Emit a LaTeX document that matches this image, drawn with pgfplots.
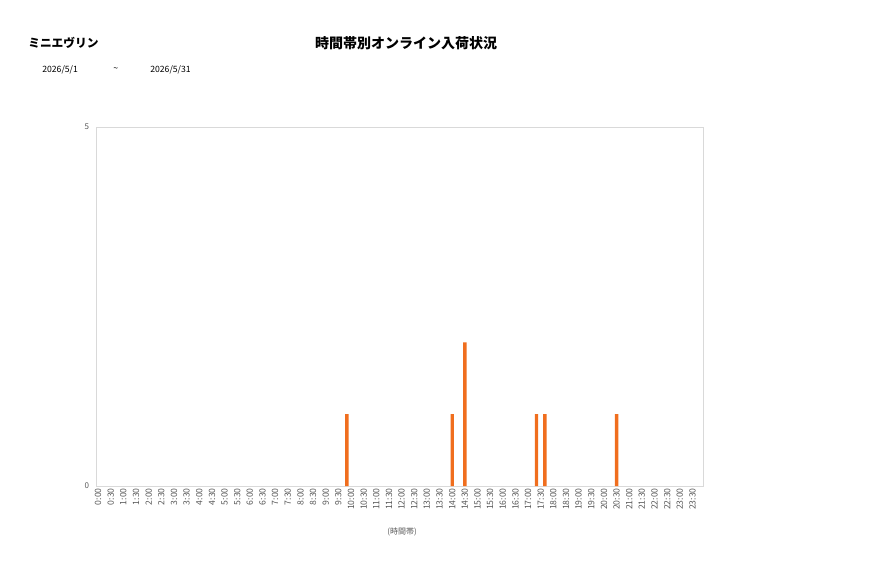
\documentclass[border=0pt]{standalone}
\usepackage{fontspec}
\setmainfont{Noto Sans CJK JP}
\usepackage{pgfplots}
\pgfplotsset{compat=1.18}
\definecolor{barorange}{RGB}{240,110,30}
\definecolor{framegray}{RGB}{217,217,217}
\definecolor{textgray}{RGB}{89,89,89}
\begin{document}
\begin{tikzpicture}[x=0.75pt,y=0.75pt]
\path[use as bounding box] (0,0) rectangle (877,578);
% titles (pixel coordinates, origin bottom left)
\node[anchor=west,inner sep=0pt,font=\fontsize{8.8}{10}\selectfont\bfseries] at (28,535) {ミニエヴリン};
\node[inner sep=0pt,font=\fontsize{10.5}{12}\selectfont\bfseries] at (406,535) {時間帯別オンライン入荷状況};
\node[anchor=west,inner sep=0pt,font=\fontsize{6.5}{8}\selectfont] at (42,508) {2026/5/1};
\node[anchor=west,inner sep=0pt,font=\fontsize{6.5}{8}\selectfont] at (113,508) {\textasciitilde};
\node[anchor=west,inner sep=0pt,font=\fontsize{6.5}{8}\selectfont] at (150,508) {2026/5/31};
\node[inner sep=0pt,text=textgray,font=\fontsize{6}{7}\selectfont] at (402,46) {(時間帯)};
\begin{axis}[
    at={(72pt,69pt)}, anchor=south west,
    scale only axis,
    width=455.25pt, height=269.25pt,
    xmin=-0.5, xmax=143.5,
    ymin=0, ymax=5,
    axis line style={framegray},
    major tick length=0pt,
    ytick={0,5},
    xtick={0,3,...,141},
    xticklabels={0:00,0:30,1:00,1:30,2:00,2:30,3:00,3:30,4:00,4:30,5:00,5:30,
                 6:00,6:30,7:00,7:30,8:00,8:30,9:00,9:30,10:00,10:30,11:00,11:30,
                 12:00,12:30,13:00,13:30,14:00,14:30,15:00,15:30,16:00,16:30,17:00,17:30,
                 18:00,18:30,19:00,19:30,20:00,20:30,21:00,21:30,22:00,22:30,23:00,23:30},
    x tick label style={rotate=90, anchor=east, font=\fontsize{6.5}{7}\selectfont, text=textgray, inner sep=1.5pt},
    y tick label style={font=\fontsize{6}{7}\selectfont, text=textgray, inner sep=2pt, xshift=-3pt},
    /pgf/number format/assume math mode=true,
    ]
% 10-minute slots, index = minutes/10
\addplot[ybar, bar width=0.8, fill=barorange, draw=none]
    coordinates {(59,1) (84,1) (87,2) (104,1) (106,1) (123,1)};
\end{axis}
\end{tikzpicture}
\end{document}
